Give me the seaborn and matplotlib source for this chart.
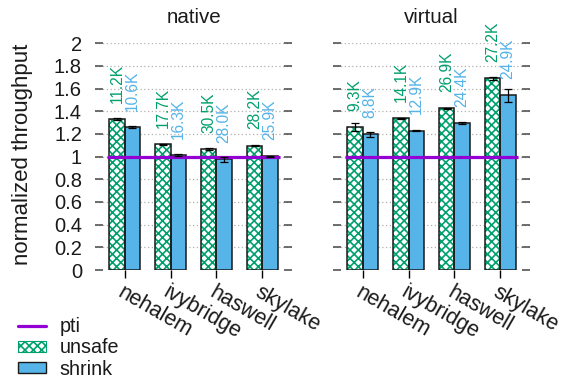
import matplotlib
matplotlib.use("Agg")
import numpy as np
import pandas as pd
import seaborn as sns
import matplotlib.pyplot as plt
from matplotlib.patches import Patch, Rectangle
from matplotlib.lines import Line2D

# ---------------- data ----------------
cpus = ["nehalem", "ivybridge", "haswell", "skylake"]
modes = ["native", "virtual"]
configs = ["unsafe", "shrink"]

native_unsafe = [1.330, 1.109, 1.068, 1.097]
native_shrink = [1.262, 1.015, 0.977, 1.003]
virtual_unsafe = [1.259, 1.338, 1.427, 1.691]
virtual_shrink = [1.197, 1.229, 1.297, 1.541]

native_unsafe_err = [0.010, 0.005, 0.008, 0.005]
native_shrink_err = [0.008, 0.005, 0.024, 0.003]
virtual_unsafe_err = [0.035, 0.006, 0.004, 0.012]
virtual_shrink_err = [0.024, 0.005, 0.005, 0.059]

native_unsafe_labels = ["11.2K", "17.7K", "30.5K", "28.2K"]
native_shrink_labels = ["10.6K", "16.3K", "28.0K", "25.9K"]
virtual_unsafe_labels = ["9.3K", "14.1K", "26.9K", "27.2K"]
virtual_shrink_labels = ["8.8K", "12.9K", "24.4K", "24.9K"]

pti_value = 1.0
yticks = [0, 0.2, 0.4, 0.6, 0.8, 1.0, 1.2, 1.4, 1.6, 1.8, 2.0]
ytick_labels = ["0", "0.2", "0.4", "0.6", "0.8", "1", "1.2", "1.4", "1.6", "1.8", "2"]

values = {("native", "unsafe"): native_unsafe, ("native", "shrink"): native_shrink,
          ("virtual", "unsafe"): virtual_unsafe, ("virtual", "shrink"): virtual_shrink}
errors = {("native", "unsafe"): native_unsafe_err, ("native", "shrink"): native_shrink_err,
          ("virtual", "unsafe"): virtual_unsafe_err, ("virtual", "shrink"): virtual_shrink_err}
labels = {("native", "unsafe"): native_unsafe_labels, ("native", "shrink"): native_shrink_labels,
          ("virtual", "unsafe"): virtual_unsafe_labels, ("virtual", "shrink"): virtual_shrink_labels}

rows = []
for m in modes:
    for c in configs:
        for i, cpu in enumerate(cpus):
            rows.append(dict(mode=m, config=c, cpu=cpu, value=values[(m, c)][i],
                             err=errors[(m, c)][i], label=labels[(m, c)][i]))
df = pd.DataFrame(rows)

# ---------------- style ----------------
sns.set_theme(style="white")
plt.rcParams["font.family"] = ["Liberation Sans", "DejaVu Sans"]
plt.rcParams["hatch.linewidth"] = 1.2
plt.rcParams["text.color"] = "#1a1a1a"

GREEN = "#00A06E"
BLUE = "#56B4E9"
PURPLE = "#9400D3"
EDGE = "#1a1a1a"

W, H = 561, 381
fig = plt.figure(figsize=(W / 100, H / 100), dpi=100)

def frac_axes(x0, x1, ytop, ybot):
    return fig.add_axes([x0 / W, 1 - ybot / H, (x1 - x0) / W, (ybot - ytop) / H])

ax1 = frac_axes(95, 292, 43.3, 270)
ax2 = frac_axes(333, 530, 43.3, 270)

for ax, mode in zip([ax1, ax2], modes):
    sub = df[df["mode"] == mode]
    sns.barplot(data=sub, x="cpu", y="value", hue="config", order=cpus,
                hue_order=configs, palette={"unsafe": "white", "shrink": BLUE},
                width=0.667, errorbar=None, saturation=1, edgecolor=EDGE,
                linewidth=1.1, legend=False, ax=ax, zorder=2)
    for ci, cfg in enumerate(configs):
        cont = ax.containers[ci]
        part = sub[sub["config"] == cfg].set_index("cpu").loc[cpus]
        xs = []
        for bar in cont:
            xs.append(bar.get_x() + bar.get_width() / 2)
            if cfg == "unsafe":
                bar.set_hatch("xxxx")
                bar.set_edgecolor(GREEN)
                bar.set_linewidth(0)
                ax.add_patch(Rectangle(bar.get_xy(), bar.get_width(), bar.get_height(),
                                       fill=False, edgecolor=EDGE, linewidth=1.1, zorder=2.1))
        ax.errorbar(xs, part["value"], yerr=part["err"], fmt="none", ecolor="black",
                    elinewidth=0.9, capsize=3, capthick=0.9, zorder=5)
        col = GREEN if cfg == "unsafe" else BLUE
        for x, v, lab in zip(xs, part["value"], part["label"]):
            ax.text(x, v + 0.145, lab, rotation=90, ha="center", va="bottom",
                    color=col, fontsize=11.2, clip_on=False)
    allbars = list(ax.containers[0]) + list(ax.containers[1])
    xmin = min(b.get_x() for b in allbars) - 0.05
    xmax = max(b.get_x() + b.get_width() for b in allbars) + 0.05
    ax.hlines(pti_value, xmin, xmax, color=PURPLE, linewidth=2.3, zorder=4)

    ax.set_xlim(-0.647, 3.647)
    ax.set_ylim(0, 2)
    ax.set_yticks(yticks)
    ax.set_xlabel("")
    ax.set_ylabel("")
    for s in ax.spines.values():
        s.set_visible(False)
    ax.grid(axis="y", linestyle=(0, (1, 2)), color="#b0b0b0", linewidth=0.9)
    ax.set_axisbelow(True)
    ax.tick_params(axis="y", direction="in", left=True, right=True, length=5.5,
                   width=1.2, color="#555555", labelsize=14.5, pad=9.4,
                   labelcolor="#1a1a1a")
    ax.tick_params(axis="x", direction="out", bottom=True, length=5.5, width=1.0,
                   color="black", labelsize=15.5, pad=3, labelcolor="#1a1a1a")
    ax.set_xticks(range(len(cpus)))
    ax.set_xticklabels(cpus, rotation=-30, ha="left", va="top", rotation_mode="anchor")
    ax.set_title(mode, fontsize=14.8, pad=14.5)

ax1.set_yticklabels(ytick_labels)
ax2.set_yticklabels([])

fig.text(23 / W, 1 - 154 / H, "normalized throughput", rotation=90, ha="center",
         va="center", fontsize=16)

handles = [Line2D([], [], color=PURPLE, linewidth=2.3),
           Patch(facecolor="white", edgecolor=GREEN, hatch="xxxx", linewidth=0.8),
           Patch(facecolor=BLUE, edgecolor=EDGE, linewidth=1.0)]
fig.legend(handles, ["pti", "unsafe", "shrink"], loc="upper left",
           bbox_to_anchor=(18 / W, 1 - 317 / H), frameon=False, fontsize=14.2,
           handlelength=1.4, handleheight=0.45, handletextpad=0.7,
           labelspacing=0.12, borderpad=0, borderaxespad=0)

fig.savefig("out.png", dpi=100)
